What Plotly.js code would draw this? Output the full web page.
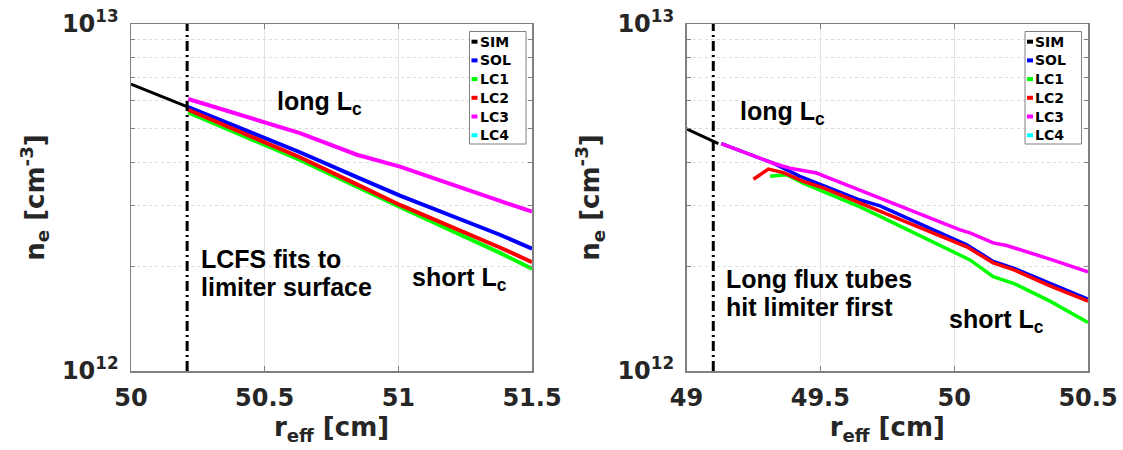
<!DOCTYPE html>
<html>
<head>
<meta charset="utf-8">
<script src="https://cdn.plot.ly/plotly-3.0.1.min.js"></script>
<style>html,body{margin:0;padding:0;background:#fff;}#chart{width:1123px;height:450px;}</style>
</head>
<body>
<div id="chart"></div>
<script>
// ---------- data (left panel) ----------
const xL_SIM = [50.0, 50.214];
const neL_SIM = [6.71e12, 5.76e12];
const xL_LC = [50.214, 50.632, 50.845, 51.006, 51.38, 51.5];
const neL_SOL = [5.76e12, 4.27e12, 3.62e12, 3.20e12, 2.47e12, 2.25e12];
const neL_LC1 = [5.56e12, 4.06e12, 3.40e12, 2.97e12, 2.19e12, 1.97e12];
const neL_LC2 = [5.66e12, 4.13e12, 3.45e12, 3.01e12, 2.27e12, 2.06e12];
const neL_LC3 = [6.08e12, 4.85e12, 4.20e12, 3.88e12, 3.09e12, 2.88e12];
const xL_LC4 = [];
const neL_LC4 = [];
const lcfsL = 50.21;

// ---------- data (right panel) ----------
const xR_SIM = [49.0, 49.119];
const neR_SIM = [4.99e12, 4.52e12];
const xR_SOL = [49.13, 49.225, 49.324, 49.424, 49.536, 49.648, 49.723, 50.047, 50.146, 50.221, 50.358, 50.5];
const neR_SOL = [4.52e12, 4.25e12, 3.97e12, 3.64e12, 3.37e12, 3.11e12, 2.99e12, 2.31e12, 2.07e12, 1.98e12, 1.79e12, 1.61e12];
const xR_LC1 = [49.312, 49.374, 49.436, 49.648, 49.723, 50.059, 50.146, 50.221, 50.358, 50.5];
const neR_LC1 = [3.64e12, 3.68e12, 3.48e12, 2.97e12, 2.79e12, 2.09e12, 1.87e12, 1.79e12, 1.59e12, 1.38e12];
const xR_LC2 = [49.25, 49.306, 49.362, 49.436, 49.511, 49.648, 49.723, 50.047, 50.146, 50.221, 50.358, 50.5];
const neR_LC2 = [3.57e12, 3.82e12, 3.73e12, 3.52e12, 3.37e12, 3.05e12, 2.90e12, 2.28e12, 2.05e12, 1.96e12, 1.76e12, 1.59e12];
const xR_LC3 = [49.13, 49.225, 49.324, 49.387, 49.486, 49.548, 49.648, 49.723, 50.022, 50.059, 50.146, 50.196, 50.358, 50.5];
const neR_LC3 = [4.52e12, 4.25e12, 3.97e12, 3.84e12, 3.72e12, 3.56e12, 3.33e12, 3.15e12, 2.55e12, 2.50e12, 2.34e12, 2.30e12, 2.10e12, 1.93e12];
const xR_LC4 = [];
const neR_LC4 = [];
const lcfsR = 49.1;

// ---------- ticks / labels ----------
const xTicksL = [50, 50.5, 51, 51.5];
const xTextL = ['50', '50.5', '51', '51.5'];
const xTicksR = [49, 49.5, 50, 50.5];
const xTextR = ['49', '49.5', '50', '50.5'];
const yTickVals = [1e12, 1e13];
const yTickText = ['10<sup>12</sup>', '10<sup>13</sup>'];
const yMinorVals = [2e12, 3e12, 4e12, 5e12, 6e12, 7e12, 8e12, 9e12];
const seriesNames = ['SIM', 'SOL', 'LC1', 'LC2', 'LC3', 'LC4'];
const seriesColors = ['#000000', '#0000ff', '#00ff00', '#ff0000', '#ff00ff', '#00ffff'];

// ---------- geometry helpers (pixel -> paper) ----------
const M = {l: 131, r: 35, t: 24, b: 79};
const W = 1123, H = 450;
const PW = W - M.l - M.r, PH = H - M.t - M.b;
const px = v => (v - M.l) / PW;
const py = v => (H - M.b - v) / PH;

function tr(x, y, i, xa, ya, w) {
  return {x: x, y: y, type: 'scatter', mode: 'lines', name: seriesNames[i],
          line: {color: seriesColors[i], width: w}, xaxis: xa, yaxis: ya,
          showlegend: false, hoverinfo: 'skip'};
}

const data = [
  tr(xL_SIM, neL_SIM, 0, 'x', 'y', 3),
  tr(xL_LC, neL_SOL, 1, 'x', 'y', 4),
  tr(xL_LC, neL_LC1, 2, 'x', 'y', 4),
  tr(xL_LC, neL_LC2, 3, 'x', 'y', 4),
  tr(xL_LC, neL_LC3, 4, 'x', 'y', 4),
  tr(xL_LC4, neL_LC4, 5, 'x', 'y', 4),
  tr(xR_SIM, neR_SIM, 0, 'x2', 'y2', 3),
  tr(xR_SOL, neR_SOL, 1, 'x2', 'y2', 3.5),
  tr(xR_LC1, neR_LC1, 2, 'x2', 'y2', 3.5),
  tr(xR_LC2, neR_LC2, 3, 'x2', 'y2', 3.5),
  tr(xR_LC3, neR_LC3, 4, 'x2', 'y2', 3.5),
  tr(xR_LC4, neR_LC4, 5, 'x2', 'y2', 3.5)
];

const tickFont = {family: 'DejaVu Sans', size: 24, color: '#262626', weight: 700};
const titleFont = {family: 'DejaVu Sans', size: 26, color: '#262626', weight: 700};
const annFont = {family: 'Liberation Sans', size: 25, color: '#000000', weight: 700};
const legFont = {family: 'DejaVu Sans', size: 14, color: '#000000', weight: 700};

function xaxisDef(dom, vals, text) {
  return {domain: dom, range: [vals[0], vals[vals.length - 1]], tickmode: 'array', tickvals: vals, ticktext: text,
          showgrid: true, gridcolor: '#e3e3e3', gridwidth: 1, zeroline: false,
          showline: true, linecolor: '#808080', linewidth: 1.5, mirror: 'ticks',
          ticks: 'inside', ticklen: 5, tickcolor: '#808080', tickfont: tickFont, ticklabelstandoff: 5,
          title: {text: 'r<sub>eff</sub> [cm]', font: titleFont, standoff: 2}, fixedrange: true};
}
function yaxisDef(anchor) {
  return {type: 'log', range: [12, 13], tickmode: 'array', tickvals: yTickVals, ticktext: yTickText,
          domain: [0, 1], anchor: anchor,
          showgrid: true, gridcolor: '#e3e3e3', zeroline: false,
          showline: true, linecolor: '#808080', linewidth: 1.5, mirror: 'ticks',
          ticks: 'inside', ticklen: 5, tickcolor: '#808080', tickfont: tickFont, ticklabelstandoff: 6,
          minor: {tickmode: 'array', tickvals: yMinorVals, showgrid: true, gridcolor: '#dcdcdc', griddash: 'dot',
                  ticks: 'inside', ticklen: 4, tickcolor: '#808080'},
          title: {text: 'n<sub>e</sub> [cm<sup>-3</sup>]', font: titleFont, standoff: 10}, fixedrange: true};
}

const shapes = [
  {type: 'line', xref: 'x', yref: 'y domain', x0: lcfsL, x1: lcfsL, y0: 0, y1: 1,
   line: {color: '#000', width: 3, dash: '10px,4px,2px,4px'}, layer: 'above'},
  {type: 'line', xref: 'x2', yref: 'y2 domain', x0: lcfsR, x1: lcfsR, y0: 0, y1: 1,
   line: {color: '#000', width: 3, dash: '10px,4px,2px,4px'}, layer: 'above'}
];
const annotations = [];

function addLegend(bx0, bx1, by0, by1, lx0, lx1, tx, row0, step) {
  shapes.push({type: 'rect', xref: 'paper', yref: 'paper', x0: px(bx0), x1: px(bx1), y0: py(by1), y1: py(by0),
               line: {color: '#808080', width: 1}, fillcolor: '#ffffff', layer: 'above'});
  seriesNames.forEach((n, i) => {
    const yy = row0 + i * step;
    shapes.push({type: 'line', xref: 'paper', yref: 'paper', x0: px(lx0), x1: px(lx1), y0: py(yy), y1: py(yy),
                 line: {color: seriesColors[i], width: 4}, layer: 'above'});
    annotations.push({xref: 'paper', yref: 'paper', x: px(tx), y: py(yy), xanchor: 'left', yanchor: 'middle',
                      text: n, showarrow: false, font: legFont});
  });
}
addLegend(469.5, 526, 31.5, 144, 471.5, 477.5, 477.5, 41.7, 18.7);
addLegend(1025, 1081.5, 31.5, 144, 1027, 1033, 1033, 41.7, 18.7);

function txt(t, x, y) {
  annotations.push({xref: 'paper', yref: 'paper', x: px(x), y: py(y), xanchor: 'left', yanchor: 'middle',
                    text: t, showarrow: false, font: annFont});
}
txt('long L<sub>c</sub>', 275, 103);
txt('LCFS fits to', 199, 259);
txt('limiter surface', 199, 287);
txt('short L<sub>c</sub>', 410, 279);
txt('long L<sub>c</sub>', 738, 113);
txt('Long flux tubes', 724, 279);
txt('hit limiter first', 724, 307);
txt('short L<sub>c</sub>', 947, 321);

const layout = {
  width: W, height: H, margin: M, showlegend: false,
  paper_bgcolor: '#ffffff', plot_bgcolor: '#ffffff',
  xaxis: xaxisDef([0, px(532)], xTicksL, xTextL),
  yaxis: yaxisDef('x'),
  xaxis2: Object.assign(xaxisDef([px(686.5), 1], xTicksR, xTextR), {anchor: 'y2'}),
  yaxis2: yaxisDef('x2'),
  shapes: shapes, annotations: annotations
};
layout.xaxis.anchor = 'y';

Plotly.newPlot('chart', data, layout, {staticPlot: true, displayModeBar: false});
</script>
</body>
</html>
